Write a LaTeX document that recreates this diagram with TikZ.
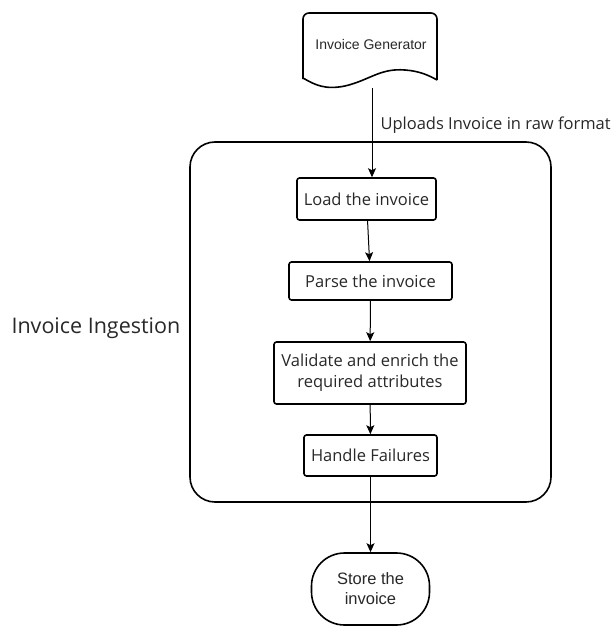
\documentclass[tikz,border=0pt]{standalone}
\usepackage{fontspec}
\setmainfont{Open Sans}
\newfontfamily\arialfont{Liberation Sans}
\usetikzlibrary{arrows.meta}
\definecolor{inktext}{RGB}{40,40,40}
\tikzset{
  stepbox/.style={draw=black,line width=1.6pt,rounded corners=2.5pt,inner sep=0pt,
    text=inktext,font=\fontsize{16.5}{21}\selectfont,align=center},
  flow/.style={-{Stealth[length=9pt,width=8pt,inset=2pt]},line width=1pt},
}
\begin{document}
\begin{tikzpicture}[x=1pt,y=-1pt]
\useasboundingbox (0,0) rectangle (612,626);
% outer process frame
\node[draw=black,line width=1.6pt,rounded corners=25pt,minimum width=361pt,minimum height=360pt] (ingest) at (370.5,322) {};
\node[anchor=west,text=inktext,font=\fontsize{21.5}{24}\selectfont] (ingestlbl) at (8,328) {Invoice Ingestion};
% document shape of the generator
\draw[line width=1.6pt,rounded corners=6pt] (303,79) -- (303,13) -- (437,13) -- (437,80);
\draw[line width=1.6pt] (303,78) .. controls (315,85) and (325,90) .. (345,86)
  .. controls (370,80) and (380,68) .. (405,70) .. controls (420,71) and (430,76) .. (437,80);
\node[text=inktext,font=\arialfont\fontsize{14}{16}\selectfont] (gen) at (371,44) {Invoice Generator};
\coordinate (genout) at (372,88);
% steps
\node[stepbox,minimum width=139pt,minimum height=42pt] (load) at (366.5,199) {Load the invoice};
\node[stepbox,minimum width=163pt,minimum height=38pt] (parse) at (370.5,281) {Parse the invoice};
\node[stepbox,minimum width=192pt,minimum height=62pt] (valid) at (370,373) {Validate and enrich the\\required attributes};
\node[stepbox,minimum width=133pt,minimum height=41pt] (fail) at (370.5,455.5) {Handle Failures};
\node[draw=black,line width=1.6pt,rounded corners=33pt,minimum width=118pt,minimum height=72pt,
  text=inktext,font=\arialfont\fontsize{16.5}{20}\selectfont,align=center] (store) at (370.5,589) {Store the\\invoice};
% connectors
\draw[flow] (genout) -- (load.north -| genout);
\node[anchor=west,text=inktext,font=\fontsize{16.5}{18}\selectfont] (upload) at (377,125) {Uploads Invoice in raw format};
\draw[flow] (load) -- (parse);
\draw[flow] (parse) -- (valid);
\draw[flow] (valid) -- (fail);
\draw[flow] (fail) -- (store);
\end{tikzpicture}
\end{document}
